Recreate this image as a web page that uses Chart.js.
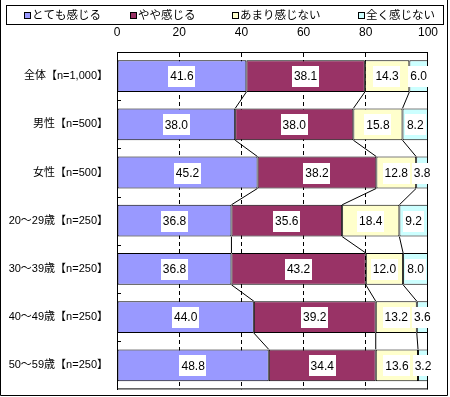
<!DOCTYPE html>
<html>
<head>
<meta charset="utf-8">
<script src="https://cdn.jsdelivr.net/npm/chart.js@4.4.1/dist/chart.umd.min.js"></script>
<style>
  body { margin: 0; background: #fff; }
  canvas { display: block; }
</style>
</head>
<body>
<canvas id="grafik" width="450" height="397"></canvas>
<script>
const kategori = [
  "全体【n=1,000】", "男性【n=500】", "女性【n=500】",
  "20～29歳【n=250】", "30～39歳【n=250】", "40～49歳【n=250】", "50～59歳【n=250】"
];
const namaSeri = ["とても感じる", "やや感じる", "あまり感じない", "全く感じない"];
const totemo = [41.6, 38.0, 45.2, 36.8, 36.8, 44.0, 48.8];
const yaya = [38.1, 38.0, 38.2, 35.6, 43.2, 39.2, 34.4];
const amari = [14.3, 15.8, 12.8, 18.4, 12.0, 13.2, 13.6];
const mattaku = [6.0, 8.2, 3.8, 9.2, 8.0, 3.6, 3.2];
const tickX = [0, 20, 40, 60, 80, 100];

const warna = ['#9999FF', '#993366', '#FFFFCC', '#CCFFFF'];
const huruf = '"Liberation Sans", "Noto Sans CJK JP", sans-serif';
const posLegenda = [24, 130, 232, 358]; // posisi x kotak legenda

// frame, tick kecil kiri, garis seri, label angka, legenda
const pluginHiasan = {
  id: 'hiasan',
  beforeDatasetsDraw(chart) {
    const { ctx, chartArea: a, scales } = chart;
    ctx.save();
    ctx.strokeStyle = '#000';
    ctx.lineWidth = 1;
    ctx.strokeRect(a.left + 0.5, a.top + 0.5, a.right - a.left - 1, a.bottom - a.top - 1);
    const ys = scales.y;
    ctx.beginPath();
    for (let i = 0; i < kategori.length - 1; i++) {
      const yy = Math.round((ys.getPixelForValue(i) + ys.getPixelForValue(i + 1)) / 2) + 0.5;
      ctx.moveTo(a.left, yy);
      ctx.lineTo(a.left + 4, yy);
    }
    ctx.stroke();
    ctx.restore();
  },
  afterDatasetsDraw(chart) {
    const { ctx } = chart;
    ctx.save();
    ctx.strokeStyle = '#000';
    ctx.lineWidth = 1;
    // garis penghubung antar batang
    for (let d = 0; d < 3; d++) {
      const el = chart.getDatasetMeta(d).data;
      ctx.beginPath();
      for (let i = 0; i < el.length - 1; i++) {
        ctx.moveTo(el[i].x, el[i].y + el[i].height / 2);
        ctx.lineTo(el[i + 1].x, el[i + 1].y - el[i + 1].height / 2);
      }
      ctx.stroke();
    }
    // label angka
    ctx.font = '12px ' + huruf;
    ctx.textAlign = 'center';
    ctx.textBaseline = 'middle';
    chart.data.datasets.forEach((ds, d) => {
      chart.getDatasetMeta(d).data.forEach((bar, i) => {
        const teks = ds.data[i].toFixed(1);
        const w = ctx.measureText(teks).width;
        const cx = (bar.x + bar.base) / 2;
        ctx.fillStyle = '#fff';
        ctx.fillRect(Math.round(cx - w / 2 - 2), Math.round(bar.y - 10), Math.round(w + 4), 21);
        ctx.fillStyle = '#000';
        ctx.fillText(teks, cx, bar.y + 1);
      });
    });
    ctx.restore();
  },
  afterDraw(chart) {
    const { ctx } = chart;
    ctx.save();
    ctx.strokeStyle = '#000';
    ctx.lineWidth = 1;
    // legenda
    ctx.strokeRect(6.5, 5.5, 437, 19);
    ctx.font = '11.5px ' + huruf;
    ctx.textAlign = 'left';
    ctx.textBaseline = 'middle';
    chart.data.datasets.forEach((ds, k) => {
      const x = posLegenda[k];
      ctx.fillStyle = ds.backgroundColor;
      ctx.fillRect(x, 12, 7, 7);
      ctx.strokeRect(x + 0.5, 12.5, 6, 6);
      ctx.fillStyle = '#000';
      ctx.fillText(ds.label, x + 8, 16);
    });
    // bingkai luar
    ctx.beginPath();
    ctx.moveTo(0.5, 0);
    ctx.lineTo(0.5, 395.5);
    ctx.lineTo(447.5, 395.5);
    ctx.lineTo(447.5, 0);
    ctx.stroke();
    ctx.restore();
  }
};

const chartBar = new Chart(document.getElementById('grafik').getContext('2d'), {
  type: 'bar',
  data: {
    labels: kategori,
    datasets: [totemo, yaya, amari, mattaku].map((nilai, k) => ({
      label: namaSeri[k],
      data: nilai,
      backgroundColor: warna[k],
      borderColor: '#000',
      borderWidth: 1,
      borderSkipped: false,
      categoryPercentage: 1,
      barPercentage: 0.66
    }))
  },
  options: {
    indexAxis: 'y',
    responsive: false,
    animation: false,
    devicePixelRatio: 1,
    layout: { padding: { left: 0, right: 20, top: 0, bottom: 6 } },
    plugins: {
      tooltip: { enabled: false },
      legend: { display: false }
    },
    scales: {
      x: {
        position: 'top',
        stacked: true,
        min: 0,
        max: 100,
        afterBuildTicks(scale) {
          scale.ticks = tickX.map(v => ({ value: v }));
        },
        afterFit(scale) { scale.height = 52; },
        ticks: { color: '#000', font: { size: 12, family: huruf }, padding: 12 },
        grid: { color: '#000', drawTicks: false },
        border: { color: '#000', dash: [4, 3] }
      },
      y: {
        stacked: true,
        afterFit(scale) { scale.width = 117; },
        ticks: { color: '#000', font: { size: 11, family: huruf }, padding: 1 },
        grid: { display: false },
        border: { color: '#000' }
      }
    }
  },
  plugins: [pluginHiasan]
});
</script>
</body>
</html>
